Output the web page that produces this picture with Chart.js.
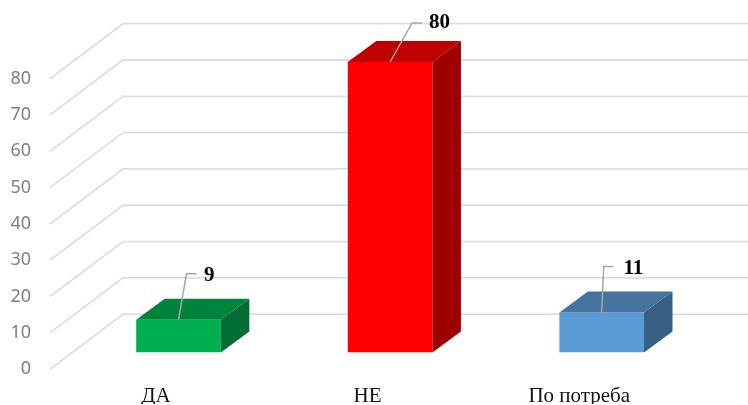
<!DOCTYPE html>
<html><head><meta charset="utf-8">
<style>html,body{margin:0;padding:0;background:#fff}canvas{display:block;filter:blur(0.4px)}</style>
<script src="https://cdn.jsdelivr.net/npm/chart.js@4"></script>
</head><body><canvas id="c" width="748" height="405"></canvas>
<script>
const categories = ['ДА', 'НЕ', 'По потреба'];
const values = [9, 80, 11];
const yMax = 80;
const yStep = 10;
const frontColors = ['#00B050', '#FF0000', '#5B9BD5'];
const topColors = ['#00843C', '#BF0000', '#44749F'];
const sideColors = ['#006D32', '#9E0000', '#386085'];
const leaderStyle = [
  {ex: 8, ey: -46, tx: 18, lx: 25.5, ly: 2},
  {ex: 22, ey: -39, tx: 32, lx: 39, ly: 0},
  {ex: 2, ey: -46, tx: 12, lx: 21.7, ly: 2.5}
];

const depth = {dx: 28.5, dy: 21};
const floor = {frontX: 50, frontDy: 16.7, backX: 123, backDy: -38.3, rightX: 748};

const wall3d = {
  id: 'wall3d',
  beforeDatasetsDraw(chart) {
    const {ctx, scales: {y}} = chart;
    ctx.save();
    ctx.strokeStyle = '#DEDEDE';
    ctx.lineWidth = 1.8;
    y.ticks.forEach(t => {
      const p = y.getPixelForValue(t.value);
      ctx.beginPath();
      ctx.moveTo(floor.frontX, p + floor.frontDy);
      ctx.lineTo(floor.backX, p + floor.backDy);
      ctx.lineTo(floor.rightX, p + floor.backDy);
      ctx.stroke();
    });
    ctx.restore();
  }
};

const bar3d = {
  id: 'bar3d',
  afterDatasetsDraw(chart) {
    const {ctx} = chart;
    const meta = chart.getDatasetMeta(0);
    ctx.save();
    meta.data.forEach((el, i) => {
      const l = el.x - el.width / 2, r = el.x + el.width / 2, t = el.y, b = el.base;
      ctx.fillStyle = topColors[i];
      ctx.beginPath();
      ctx.moveTo(l, t); ctx.lineTo(l + depth.dx, t - depth.dy);
      ctx.lineTo(r + depth.dx, t - depth.dy); ctx.lineTo(r, t);
      ctx.closePath(); ctx.fill();
      ctx.fillStyle = sideColors[i];
      ctx.beginPath();
      ctx.moveTo(r, t); ctx.lineTo(r + depth.dx, t - depth.dy);
      ctx.lineTo(r + depth.dx, b - depth.dy); ctx.lineTo(r, b);
      ctx.closePath(); ctx.fill();
    });
    meta.data.forEach((el, i) => {
      const s = leaderStyle[i];
      ctx.strokeStyle = '#A6A6A6';
      ctx.lineWidth = 1.5;
      ctx.beginPath();
      ctx.moveTo(el.x, el.y);
      ctx.lineTo(el.x + s.ex, el.y + s.ey);
      ctx.lineTo(el.x + s.tx, el.y + s.ey);
      ctx.stroke();
      ctx.fillStyle = '#000';
      ctx.font = 'bold 21px "Liberation Serif"';
      ctx.textAlign = 'left';
      ctx.textBaseline = 'middle';
      ctx.fillText(String(values[i]), el.x + s.lx, el.y + s.ey + s.ly);
    });
    ctx.restore();
  }
};

new Chart(document.getElementById('c'), {
  type: 'bar',
  data: {
    labels: categories,
    datasets: [{data: values, backgroundColor: frontColors, borderWidth: 0,
      barPercentage: 0.4, categoryPercentage: 1}]
  },
  options: {
    responsive: false,
    animation: false,
    layout: {padding: {top: 62, right: 40.5, left: 0, bottom: 0}},
    plugins: {legend: {display: false}, title: {display: false}, tooltip: {enabled: false}},
    scales: {
      x: {
        grid: {display: false, drawTicks: false},
        border: {display: false},
        afterFit(s) { s.height = 51.5; },
        ticks: {
          color: '#111',
          font: {family: '"Liberation Serif"', size: 21},
          padding: 31,
          labelOffset: -22.5,
          maxRotation: 0
        }
      },
      y: {
        min: 0, max: yMax,
        grid: {display: false, drawTicks: false},
        border: {display: false},
        afterFit(s) { s.width = 72.7; },
        ticks: {
          stepSize: yStep,
          color: '#7F7F7F',
          font: {family: '"Noto Sans"', size: 18},
          padding: 41.7,
          labelOffset: 16.5
        }
      }
    }
  },
  plugins: [wall3d, bar3d]
});
</script></body></html>
